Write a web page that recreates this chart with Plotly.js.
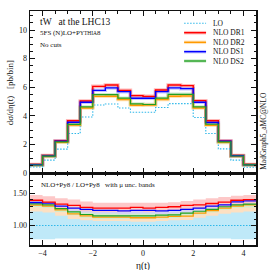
<!DOCTYPE html>
<html><head><meta charset="utf-8">
<script src="https://cdn.plot.ly/plotly-3.0.1.min.js"></script>
<style>html,body{margin:0;padding:0;background:#fff}#chart{width:270px;height:270px}</style>
</head><body><div id="chart"></div>
<script>
// bin edges of eta(t)
var edges = [-4.5,-4,-3.5,-3,-2.5,-2,-1.5,-1,-0.5,0,0.5,1,1.5,2,2.5,3,3.5,4,4.5];

// main panel: d sigma / d eta [pb/bin]
var loMain  = [0.42,0.90,1.67,2.76,3.92,4.76,4.83,4.55,4.25,4.25,4.58,4.85,4.85,3.88,2.76,1.69,0.90,0.40];
var dr1Main = [0.60,1.22,2.26,3.65,5.04,6.06,6.15,5.78,5.41,5.36,5.80,6.15,6.11,5.06,3.65,2.25,1.23,0.60];
var dr2Main = [0.55,1.16,2.15,3.36,4.55,5.36,5.37,5.14,4.74,4.76,5.14,5.37,5.39,4.55,3.34,2.14,1.17,0.56];
var ds1Main = [0.58,1.20,2.22,3.55,4.95,5.78,5.95,5.69,5.23,5.23,5.69,5.95,5.90,4.95,3.53,2.22,1.21,0.58];
var ds2Main = [0.56,1.18,2.18,3.40,4.62,5.48,5.48,5.23,4.83,4.79,5.23,5.50,5.50,4.62,3.41,2.17,1.19,0.57];

// ratio panel: NLO+Py8 / LO+Py8 and scale bands
var loRatio = [1,1,1,1,1,1,1,1,1,1,1,1,1,1,1,1,1,1];
var loUp    = [1.23,1.22,1.22,1.22,1.21,1.21,1.21,1.21,1.21,1.21,1.21,1.21,1.21,1.21,1.22,1.22,1.22,1.23];
var loDn    = [0.79,0.79,0.80,0.80,0.80,0.80,0.80,0.80,0.80,0.80,0.80,0.80,0.80,0.80,0.80,0.80,0.79,0.79];
var dr1R    = [1.39,1.36,1.33,1.31,1.28,1.27,1.27,1.27,1.28,1.27,1.28,1.29,1.31,1.32,1.34,1.36,1.39,1.40];
var dr1Up   = [1.47,1.45,1.42,1.40,1.37,1.35,1.35,1.35,1.35,1.35,1.35,1.36,1.38,1.40,1.42,1.44,1.46,1.47];
var dr1Dn   = [1.33,1.30,1.27,1.25,1.22,1.21,1.21,1.21,1.22,1.21,1.22,1.23,1.25,1.26,1.28,1.30,1.33,1.34];
var ds1R    = [1.355,1.345,1.30,1.27,1.25,1.235,1.235,1.225,1.235,1.235,1.225,1.235,1.25,1.27,1.30,1.32,1.365,1.38];
var ds1Up   = [1.40,1.39,1.35,1.32,1.30,1.285,1.285,1.275,1.285,1.285,1.275,1.285,1.30,1.32,1.35,1.37,1.41,1.43];
var ds1Dn   = [1.305,1.295,1.25,1.22,1.20,1.185,1.185,1.175,1.185,1.185,1.175,1.185,1.20,1.22,1.25,1.27,1.315,1.33];
var ds2R    = [1.335,1.32,1.26,1.21,1.17,1.15,1.15,1.15,1.15,1.15,1.16,1.165,1.19,1.22,1.25,1.29,1.32,1.33];
var ds2Up   = [1.375,1.36,1.30,1.25,1.21,1.19,1.19,1.19,1.19,1.19,1.20,1.205,1.23,1.26,1.29,1.33,1.36,1.37];
var ds2Dn   = [1.285,1.27,1.21,1.16,1.12,1.10,1.10,1.10,1.10,1.10,1.11,1.115,1.14,1.17,1.20,1.24,1.27,1.28];
var dr2R    = [1.315,1.30,1.24,1.18,1.15,1.13,1.13,1.13,1.12,1.12,1.13,1.14,1.145,1.19,1.23,1.27,1.30,1.32];
var dr2Up   = [1.355,1.34,1.28,1.22,1.19,1.17,1.17,1.17,1.16,1.16,1.17,1.18,1.185,1.23,1.27,1.31,1.34,1.36];
var dr2Dn   = [1.215,1.20,1.15,1.10,1.08,1.07,1.07,1.07,1.06,1.06,1.07,1.08,1.085,1.12,1.15,1.18,1.20,1.215];

var names = ['LO','NLO DR1','NLO DR2','NLO DS1','NLO DS2'];
var cLO='#2fb8ea', cDR1='#ff0000', cDR2='#ff9900', cDS1='#0000ff', cDS2='#22a022';
var colors = [cLO, cDR1, cDR2, cDS1, cDS2];
var halos = [null, 'rgba(255,0,0,0.28)', 'rgba(255,153,0,0.28)', 'rgba(0,0,255,0.22)', 'rgba(34,160,34,0.22)'];
var dotDash = '1.5px,1.5px';

function st(v){ return v.concat([v[v.length-1]]); }
function band(dn, up, col, ax){
  return [
    {x:edges, y:st(dn), xaxis:'x', yaxis:ax, mode:'lines', line:{shape:'hv', width:0}, showlegend:false, hoverinfo:'skip'},
    {x:edges, y:st(up), xaxis:'x', yaxis:ax, mode:'lines', line:{shape:'hv', width:0}, fill:'tonexty', fillcolor:col, showlegend:false, hoverinfo:'skip'}
  ];
}
function line(v, col, w, ax, name, dash){
  return {x:edges, y:st(v), xaxis: ax==='y2'?'x2':'x', yaxis:ax, mode:'lines', name:name, showlegend:false,
          line:{shape:'hv', color:col, width:w, dash:dash||'solid'}, hoverinfo:'skip'};
}

var traces = [];
// ratio bands
traces = traces.concat(band(loDn, loUp, '#bfe9f8', 'y'));
traces = traces.concat(band(dr2Dn, dr2Up, '#fde0c2', 'y'));
traces = traces.concat(band(ds2Dn, ds2Up, '#d3eccd', 'y'));
traces = traces.concat(band(ds1Dn, ds1Up, '#d6d2f4', 'y'));
traces = traces.concat(band(dr1Dn, dr1Up, '#fdc8c8', 'y'));
// main panel shading
traces.push(line(dr1Main, halos[1], 3.5, 'y2', ''));
traces.push(line(ds1Main, halos[3], 3.5, 'y2', ''));
traces.push(line(ds2Main, halos[4], 3.5, 'y2', ''));
traces.push(line(dr2Main, halos[2], 3.5, 'y2', ''));
// main panel lines
traces.push(line(loMain, cLO, 1.1, 'y2', names[0], dotDash));
traces.push(line(dr1Main, cDR1, 1.4, 'y2', names[1]));
traces.push(line(dr2Main, cDR2, 1.4, 'y2', names[2]));
traces.push(line(ds1Main, cDS1, 1.4, 'y2', names[3]));
traces.push(line(ds2Main, cDS2, 1.2, 'y2', names[4]));
// ratio lines
traces.push(line(loRatio, cLO, 1.1, 'y', names[0], dotDash));
traces.push(line(dr2R, cDR2, 1.3, 'y', names[2]));
traces.push(line(ds2R, cDS2, 1.2, 'y', names[4]));
traces.push(line(ds1R, cDS1, 1.3, 'y', names[3]));
traces.push(line(dr1R, cDR1, 1.3, 'y', names[1]));

var F = 'Liberation Serif, Times New Roman, serif';
var axBase = {showline:true, linecolor:'#111', linewidth:1.5, mirror:'ticks', ticks:'inside', tickcolor:'#111',
  showgrid:false, zeroline:false, tickfont:{family:F, size:8, color:'#111'}};
function ax(o){ var r = JSON.parse(JSON.stringify(axBase)); for (var k in o) r[k]=o[k]; return r; }

// hand-made legend (compact rows like the reference)
var legRowsY = [0.9474, 0.9073, 0.8662, 0.8261, 0.7863];
var shapes = [], annotations = [];
for (var i = 0; i < names.length; i++) {
  if (halos[i]) shapes.push({type:'line', xref:'paper', yref:'paper', x0:0.682, x1:0.779, y0:legRowsY[i], y1:legRowsY[i],
                              line:{color:halos[i], width:3.5}});
  shapes.push({type:'line', xref:'paper', yref:'paper', x0:0.682, x1:0.779, y0:legRowsY[i], y1:legRowsY[i],
               line:{color:colors[i], width: i===0 ? 1.1 : 1.4, dash: i===0 ? dotDash : 'solid'}});
  annotations.push({xref:'paper', yref:'paper', x:0.801, y:legRowsY[i], xanchor:'left', yanchor:'middle', showarrow:false,
                    text:names[i], font:{family:F, size:7.5, color:'#111'}});
}
annotations = annotations.concat([
  {xref:'paper', yref:'paper', x:0.035, y:0.953, xanchor:'left', yanchor:'middle', showarrow:false,
   text:'tW &nbsp; at the LHC13', font:{family:F, size:9.5, color:'#111'}},
  {xref:'paper', yref:'paper', x:0.035, y:0.905, xanchor:'left', yanchor:'middle', showarrow:false,
   text:'5FS (N)LO+P<span style="font-size:5.5px">YTHIA</span>8', font:{family:F, size:7, color:'#111'}},
  {xref:'paper', yref:'paper', x:0.035, y:0.855, xanchor:'left', yanchor:'middle', showarrow:false,
   text:'No cuts', font:{family:F, size:7, color:'#111'}},
  {xref:'paper', yref:'paper', x:0.04, y:0.256, xanchor:'left', yanchor:'middle', showarrow:false,
   text:'NLO+Py8 / LO+Py8 &nbsp; with μ unc. bands', font:{family:F, size:7, color:'#111'}},
  {xref:'paper', yref:'paper', x:-0.087, y:0.65, xanchor:'center', yanchor:'middle', showarrow:false, textangle:-90,
   text:'dσ/dη(t) &nbsp; [pb/bin]', font:{family:F, size:9, color:'#111'}},
  {xref:'paper', yref:'paper', x:1.03, y:0.487, xanchor:'center', yanchor:'middle', showarrow:false, textangle:-90,
   text:'MadGraph5_aMC@NLO', font:{family:F, size:7.5, color:'#111'}},
  {xref:'paper', yref:'paper', x:0.5, y:-0.09, xanchor:'center', yanchor:'middle', showarrow:false,
   text:'η(t)', font:{family:F, size:9.5, color:'#111'}}
]);

var split = 72/234;
var layout = {
  width:270, height:270, margin:{l:30, r:14, t:11, b:25},
  paper_bgcolor:'#fff', plot_bgcolor:'#fff', font:{family:F, color:'#111'},
  xaxis: ax({domain:[0,1], range:[-4.5,4.5], anchor:'y', tickvals:[-4,-2,0,2,4], ticklen:5,
             minor:{dtick:0.5, ticklen:2.5, ticks:'inside', tickcolor:'#111'}}),
  xaxis2: ax({domain:[0,1], range:[-4.5,4.5], anchor:'y2', matches:'x', tickvals:[-4,-2,0,2,4], ticklen:5, showticklabels:false,
             minor:{dtick:0.5, ticklen:2.5, ticks:'inside', tickcolor:'#111'}}),
  yaxis: ax({domain:[0,split], range:[0.7,1.81], anchor:'x', tickvals:[1,1.5], ticktext:['1.00','1.50'], ticklen:5,
             minor:{dtick:0.1, ticklen:2.5, ticks:'inside', tickcolor:'#111'}}),
  yaxis2: ax({domain:[split,1], range:[0,11.33], anchor:'x2', dtick:2, ticklen:5,
             minor:{dtick:0.5, ticklen:2.5, ticks:'inside', tickcolor:'#111'}}),
  showlegend:false,
  shapes:shapes,
  annotations:annotations
};
Plotly.newPlot('chart', traces, layout, {staticPlot:true, displayModeBar:false});
</script></body></html>
